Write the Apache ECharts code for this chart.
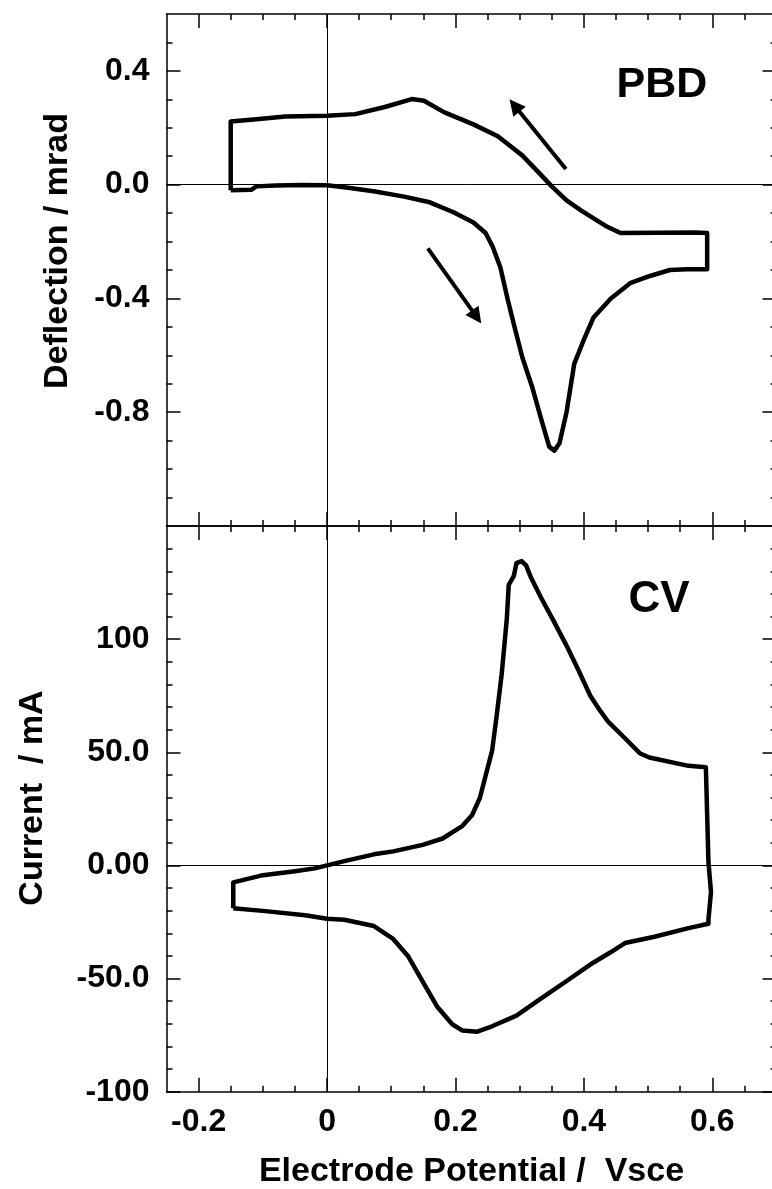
<!DOCTYPE html>
<html><head><meta charset="utf-8">
<script src="https://cdn.jsdelivr.net/npm/echarts@6/dist/echarts.min.js"></script>
<style>html,body{margin:0;padding:0;background:#fff}#c{width:772px;height:1189px}</style>
</head><body><div id="c"></div>
<script>
// ---- data ----
const pbdPotential = [-0.150,-0.118,-0.110,-0.080,-0.040,0.000,0.030,0.075,0.120,0.160,0.197,0.228,0.247,0.258,0.270,0.281,0.293,0.304,0.320,0.335,0.346,0.354,0.362,0.373,0.385,0.400,0.415,0.442,0.473,0.503,0.534,0.560,0.592,0.592,0.572,0.457,0.434,0.396,0.373,0.350,0.335,0.304,0.266,0.228,0.182,0.151,0.132,0.090,0.044,0.000,-0.065,-0.110,-0.150,-0.150];
const pbdDeflection = [-0.020,-0.018,-0.006,-0.003,-0.001,-0.002,-0.010,-0.024,-0.042,-0.062,-0.097,-0.133,-0.170,-0.218,-0.291,-0.400,-0.509,-0.606,-0.715,-0.836,-0.921,-0.935,-0.909,-0.800,-0.630,-0.545,-0.467,-0.400,-0.345,-0.321,-0.300,-0.297,-0.297,-0.170,-0.168,-0.170,-0.145,-0.091,-0.055,-0.006,0.030,0.103,0.170,0.212,0.255,0.295,0.301,0.273,0.248,0.242,0.240,0.230,0.222,-0.020];
const cvPotential = [-0.146,-0.146,-0.103,-0.050,-0.019,0.000,0.027,0.073,0.103,0.149,0.180,0.211,0.226,0.238,0.257,0.264,0.272,0.280,0.283,0.291,0.295,0.303,0.310,0.318,0.333,0.352,0.372,0.392,0.410,0.425,0.437,0.464,0.487,0.502,0.563,0.590,0.594,0.598,0.594,0.594,0.563,0.510,0.464,0.441,0.410,0.372,0.333,0.295,0.257,0.234,0.211,0.195,0.172,0.149,0.126,0.103,0.073,0.027,0.000,-0.034,-0.096,-0.146];
const cvCurrent = [-18.9,-7.5,-4.5,-2.6,-1.3,0.0,1.9,4.9,6.2,9.1,11.9,17.5,22.3,29.8,50.6,65.7,84.5,109.0,124.0,128.0,133.6,134.5,132.6,127.0,118.5,108.5,97.7,86.0,75.0,68.5,63.8,56.2,49.6,47.7,44.0,43.4,1.5,-11.7,-24.0,-25.8,-27.7,-31.5,-34.3,-38.5,-43.8,-51.3,-58.9,-66.4,-71.1,-73.5,-73.0,-70.2,-62.6,-51.3,-40.0,-32.5,-26.8,-24.0,-23.6,-22.0,-20.2,-18.9];
const arrowStart = [[0.372, 0.055], [0.157, -0.224]];
const arrowEnd = [[0.292, 0.278], [0.233, -0.465]];

const xMajorTicks = [-0.2, 0, 0.2, 0.4, 0.6];
const xMinorTicks = [-0.15,-0.1,-0.05,0.05,0.1,0.15,0.25,0.3,0.35,0.45,0.5,0.55,0.65];
const xTickLabels = ['-0.2','0','0.2','0.4','0.6'];
const pbdMajorTicks = [-0.8, -0.4, 0, 0.4];
const pbdMinorTicks = [-1.1,-1.0,-0.9,-0.7,-0.6,-0.5,-0.3,-0.2,-0.1,0.1,0.2,0.3,0.5];
const pbdTickLabels = ['-0.8','-0.4','0.0','0.4'];
const cvMajorTicks = [-100, -50, 0, 50, 100];
const cvMinorTicks = [-90,-80,-70,-60,-40,-30,-20,-10,10,20,30,40,60,70,80,90,110,120,130,140];
const cvTickLabels = ['-100','-50.0','0.00','50.0','100'];

// ---- chart ----
const FONT = '"Liberation Sans", Arial, sans-serif';
const BLACK = '#000';
function zip(a, b) { return a.map((v, i) => [v, b[i]]); }
function labelOf(ticks, labels) {
  return function (v) {
    const i = ticks.findIndex(t => Math.abs(t - v) < 1e-9);
    return i >= 0 ? labels[i] : '';
  };
}
function axes(gridIndex, position, min, max, majors, minors, labels, extra) {
  const base = {
    type: 'value', gridIndex, position, min, max,
    splitLine: { show: false },
    axisLine: { show: true, onZero: false, lineStyle: { color: BLACK, width: 1.5 } }
  };
  const major = Object.assign({}, base, {
    axisTick: { show: true, inside: true, length: 14, customValues: majors, lineStyle: { color: BLACK, width: 1.5 } },
    axisLabel: labels ? {
      show: true, customValues: majors, formatter: labelOf(majors, labels),
      color: BLACK, fontSize: 32, fontWeight: 'bold', fontFamily: FONT,
      margin: (position === 'left' ? 17 : 14)
    } : { show: false }
  }, extra || {});
  const minor = Object.assign({}, base, {
    axisLine: { show: false, onZero: false },
    axisTick: { show: true, inside: true, length: 6, customValues: minors, lineStyle: { color: BLACK, width: 1.5 } },
    axisLabel: { show: false }
  });
  return [major, minor];
}
const nameStyle = { color: BLACK, fontSize: 34, fontWeight: 'bold', fontFamily: FONT };

const xAxis = [].concat(
  axes(0, 'bottom', -0.25, 0.7, xMajorTicks, xMinorTicks, null),
  axes(0, 'top', -0.25, 0.7, xMajorTicks, xMinorTicks, null),
  axes(1, 'bottom', -0.25, 0.7, xMajorTicks, xMinorTicks, xTickLabels, {
    name: 'Electrode Potential /  Vsce', nameLocation: 'middle', nameGap: 63, nameTextStyle: nameStyle
  }),
  axes(1, 'top', -0.25, 0.7, xMajorTicks, xMinorTicks, null)
);
const yAxis = [].concat(
  axes(0, 'left', -1.2, 0.6, pbdMajorTicks, pbdMinorTicks, pbdTickLabels),
  axes(0, 'right', -1.2, 0.6, pbdMajorTicks, pbdMinorTicks, null),
  axes(1, 'left', -100, 150, cvMajorTicks, cvMinorTicks, cvTickLabels),
  axes(1, 'right', -100, 150, cvMajorTicks, cvMinorTicks, null)
);

const zeroLines = {
  silent: true, symbol: 'none', label: { show: false },
  lineStyle: { color: BLACK, width: 1, type: 'solid' },
  emphasis: { disabled: true },
  data: [{ yAxis: 0 }, { xAxis: 0 }]
};

function vText(text, x, y) {
  return { type: 'text', x, y, rotation: Math.PI / 2, silent: true,
    style: Object.assign({ text, fill: BLACK, align: 'center', verticalAlign: 'middle' },
      { fontSize: nameStyle.fontSize, fontWeight: 'bold', fontFamily: FONT }) };
}

const chart = echarts.init(document.getElementById('c'));
chart.setOption({
  animation: false,
  backgroundColor: '#fff',
  grid: [
    { left: 166.5, top: 14, width: 610, height: 512, outerBoundsMode: 'none', containLabel: false },
    { left: 166.5, top: 526, width: 610, height: 565.7, outerBoundsMode: 'none', containLabel: false }
  ],
  xAxis, yAxis,
  graphic: [
    vText('Deflection / mrad', 58, 251),
    vText('Current  / mA', 33, 798),
    { type: 'text', x: 662, y: 85, silent: true,
      style: { text: 'PBD', fill: BLACK, fontSize: 43, fontWeight: 'bold', fontFamily: FONT, align: 'center', verticalAlign: 'middle' } },
    { type: 'text', x: 659, y: 600, silent: true,
      style: { text: 'CV', fill: BLACK, fontSize: 44, fontWeight: 'bold', fontFamily: FONT, align: 'center', verticalAlign: 'middle' } }
  ],
  series: [
    {
      type: 'line', name: 'PBD', xAxisIndex: 0, yAxisIndex: 0,
      data: zip(pbdPotential, pbdDeflection), showSymbol: false, symbol: 'none',
      lineStyle: { color: BLACK, width: 4.5, join: 'round' }, z: 3,
      markLine: zeroLines
    },
    {
      type: 'lines', coordinateSystem: 'cartesian2d', xAxisIndex: 0, yAxisIndex: 0,
      symbol: ['none', 'triangle'], symbolSize: 16, silent: true, z: 4,
      lineStyle: { color: BLACK, width: 4, opacity: 1 },
      itemStyle: { color: BLACK },
      data: arrowStart.map((s, i) => ({ coords: [s, arrowEnd[i]] }))
    },
    {
      type: 'line', name: 'CV', xAxisIndex: 4, yAxisIndex: 4,
      data: zip(cvPotential, cvCurrent), showSymbol: false, symbol: 'none',
      lineStyle: { color: BLACK, width: 4.5, join: 'round' }, z: 3,
      markLine: zeroLines
    }
  ]
});
</script></body></html>
